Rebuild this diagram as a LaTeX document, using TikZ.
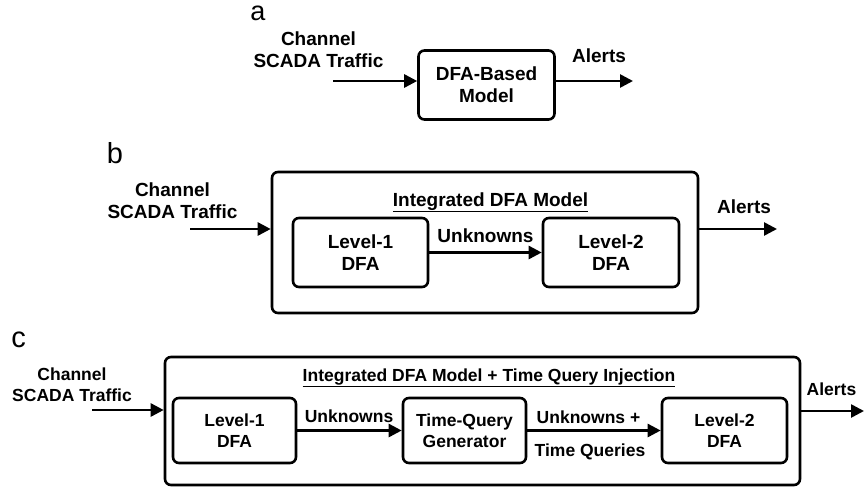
\documentclass[tikz,border=0pt]{standalone}
\usepackage{fontspec}
\setmainfont{Liberation Sans}
\usetikzlibrary{arrows.meta}

\begin{document}
\begin{tikzpicture}[x=1pt,y=-1pt,
   blk/.style={draw,line width=2.6pt,rounded corners=6pt,align=center,inner sep=0pt},
   txt/.style={align=center,inner sep=0pt},
   flow/.style={line width=2.6pt,-{Triangle[length=13pt,width=13pt]}},
   bigf/.style={font=\bfseries\fontsize{19}{22}\selectfont},
   smallf/.style={font=\bfseries\fontsize{17.5}{20.5}\selectfont},
   tag/.style={anchor=base,inner sep=0pt,font=\fontsize{29}{30}\selectfont}]
   \useasboundingbox (0,0) rectangle (865,487);
   % (a)
   \node[tag,font=\fontsize{27}{28}\selectfont,text height=14pt] (taga) at (258,21) {a};
   \node[txt,bigf] (srca) at (318.5,49.5) {Channel\\SCADA Traffic};
   \node[blk,bigf,minimum width=136,minimum height=69] (dfaa) at (486.5,85) {DFA-Based\\Model};
   \node[txt,bigf,anchor=base] (alra) at (599,63) {Alerts};
   \coordinate (ina) at (333,81);
   \coordinate (outa) at (633,81);
   \draw[flow] (ina) -- (ina -| dfaa.west);
   \draw[flow] (outa -| dfaa.east) -- (outa);
   % (b)
   \node[tag] (tagb) at (115,163) {b};
   \node[txt,bigf] (srcb) at (172.5,200.5) {Channel\\SCADA Traffic};
   \node[blk,minimum width=426,minimum height=141] (intb) at (485,242.5) {};
   \node[txt,bigf,anchor=base] (titb) at (490.5,206) {\underline{Integrated DFA Model}};
   \node[blk,bigf,minimum width=135,minimum height=69] (lvla) at (360.5,252.5) {Level-1\\DFA};
   \node[blk,bigf,minimum width=136,minimum height=69] (lvlb) at (611,252.5) {Level-2\\DFA};
   \node[txt,bigf,anchor=base] (unkb) at (485.5,242) {Unknowns};
   \node[txt,bigf,anchor=base] (alrb) at (744,213) {Alerts};
   \coordinate (inb) at (190,229);
   \coordinate (outb) at (777,229);
   \draw[flow] (inb) -- (inb -| intb.west);
   \draw[flow] (lvla.east) -- (lvlb.west);
   \draw[flow] (outb -| intb.east) -- (outb);
   % (c)
   \node[tag] (tagc) at (18.5,347) {c};
   \node[txt,smallf] (srcc) at (72,384.5) {Channel\\SCADA Traffic};
   \node[blk,minimum width=635,minimum height=128] (intc) at (482.5,421) {};
   \node[txt,smallf,anchor=base] (titc) at (489,381) {\underline{Integrated DFA Model + Time Query Injection}};
   \node[blk,smallf,minimum width=123,minimum height=65] (lvlc) at (234.5,430.5) {Level-1\\DFA};
   \node[blk,smallf,minimum width=123,minimum height=65] (tqg) at (464.5,430.5) {Time-Query\\Generator};
   \node[blk,smallf,minimum width=125,minimum height=65] (lvld) at (724.5,430.5) {Level-2\\DFA};
   \node[txt,smallf,anchor=base] (unkc) at (349,422) {Unknowns};
   \node[txt,smallf,anchor=base] (unkq) at (588.5,423) {Unknowns +};
   \node[txt,smallf,anchor=base] (tque) at (590,456) {Time Queries};
   \node[txt,smallf,anchor=base] (alrc) at (831.5,395) {Alerts};
   \coordinate (inc) at (92,410);
   \coordinate (outc) at (864,411);
   \draw[flow] (inc) -- (inc -| intc.west);
   \draw[flow] (lvlc.east) -- (tqg.west);
   \draw[flow] (tqg.east) -- (lvld.west);
   \draw[flow] (outc -| intc.east) -- (outc);
\end{tikzpicture}
\end{document}
